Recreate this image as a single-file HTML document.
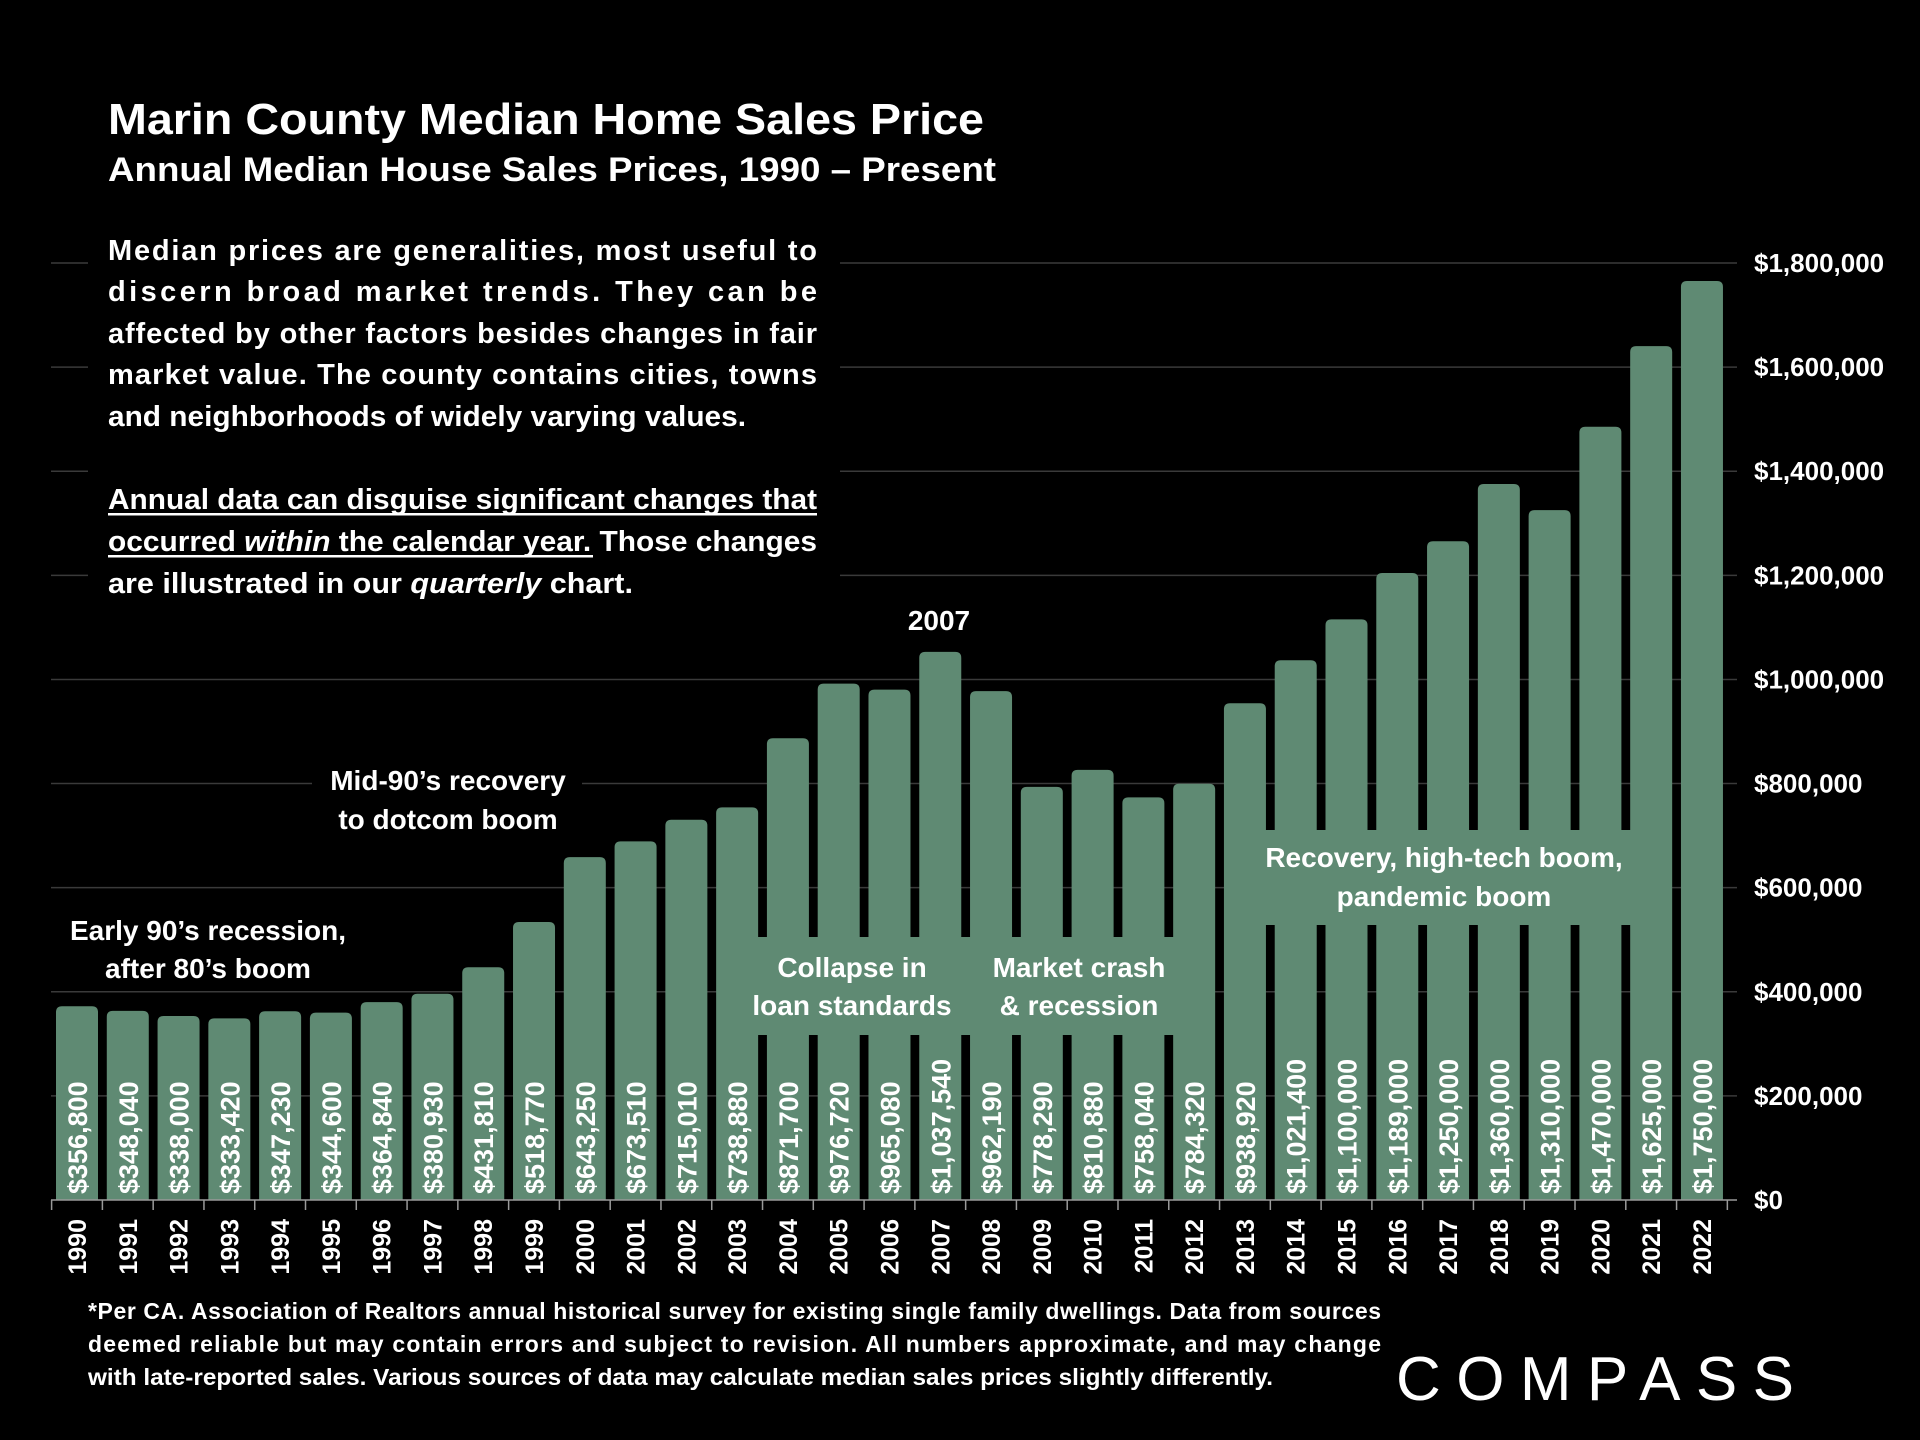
<!DOCTYPE html>
<html><head><meta charset="utf-8"><title>Marin County Median Home Sales Price</title>
<style>
html,body{margin:0;padding:0;background:#000;}
svg{display:block;font-family:"Liberation Sans",sans-serif;font-weight:bold;}
</style></head>
<body>
<svg id="chart" width="1920" height="1440" viewBox="0 0 1920 1440" xmlns="http://www.w3.org/2000/svg">
<rect width="1920" height="1440" fill="#000"/>
<g id="grid"></g>
<g id="bars"></g>
<g id="axes"></g>

<text x="108" y="134" font-size="44" fill="#fff" textLength="876" lengthAdjust="spacingAndGlyphs">Marin County Median Home Sales Price</text>
<text x="108" y="181" font-size="34" fill="#fff" textLength="888" lengthAdjust="spacingAndGlyphs">Annual Median House Sales Prices, 1990 – Present</text>

<g>
<rect x="88" y="230" width="752" height="372" fill="#000"/>
<g font-size="29" fill="#fff" lengthAdjust="spacingAndGlyphs">
<text x="108" y="260" textLength="709" lengthAdjust="spacing">Median prices are generalities, most useful to</text>
<text x="108" y="301" textLength="709" lengthAdjust="spacing">discern broad market trends. They can be</text>
<text x="108" y="343" textLength="709" lengthAdjust="spacing">affected by other factors besides changes in fair</text>
<text x="108" y="384" textLength="709" lengthAdjust="spacing">market value. The county contains cities, towns</text>
<text x="108" y="426" textLength="638" lengthAdjust="spacingAndGlyphs">and neighborhoods of widely varying values.</text>
<text x="108" y="509" textLength="709" lengthAdjust="spacingAndGlyphs">Annual data can disguise significant changes that</text>
<text x="108" y="551" textLength="709" lengthAdjust="spacingAndGlyphs">occurred <tspan font-style="italic">within</tspan> the calendar year. Those changes</text>
<text x="108" y="593" textLength="525" lengthAdjust="spacingAndGlyphs">are illustrated in our <tspan font-style="italic">quarterly</tspan> chart.</text>
</g>
<rect x="108" y="513" width="709" height="2.5" fill="#fff"/>
<rect x="108" y="555" width="485" height="2.5" fill="#fff"/>
</g>

<rect x="312" y="758" width="270" height="86" fill="#000"/>
<text x="448" y="790" font-size="28" fill="#fff" text-anchor="middle">Mid-90’s recovery</text>
<text x="448" y="829" font-size="28" fill="#fff" text-anchor="middle">to dotcom boom</text>
<text x="208" y="940" font-size="28" fill="#fff" text-anchor="middle">Early 90’s recession,</text>
<text x="208" y="978" font-size="28" fill="#fff" text-anchor="middle">after 80’s boom</text>
<text x="939" y="630" font-size="28" fill="#fff" text-anchor="middle">2007</text>

<rect x="753" y="937" width="432" height="98" fill="#5f8a73"/>
<text x="852" y="977" font-size="28" fill="#fff" text-anchor="middle">Collapse in</text>
<text x="852" y="1015" font-size="28" fill="#fff" text-anchor="middle">loan standards</text>
<text x="1079" y="977" font-size="28" fill="#fff" text-anchor="middle">Market crash</text>
<text x="1079" y="1015" font-size="28" fill="#fff" text-anchor="middle">&amp; recession</text>

<rect x="1243" y="830" width="398" height="95" fill="#5f8a73"/>
<text x="1444" y="867" font-size="28" fill="#fff" text-anchor="middle">Recovery, high-tech boom,</text>
<text x="1444" y="906" font-size="28" fill="#fff" text-anchor="middle">pandemic boom</text>

<g font-size="23" fill="#fff">
<text x="88" y="1319" textLength="1293" lengthAdjust="spacing">*Per CA. Association of Realtors annual historical survey for existing single family dwellings. Data from sources</text>
<text x="88" y="1352" textLength="1293" lengthAdjust="spacing">deemed reliable but may contain errors and subject to revision. All numbers approximate, and may change</text>
<text x="88" y="1385" textLength="1185" lengthAdjust="spacingAndGlyphs">with late-reported sales. Various sources of data may calculate median sales prices slightly differently.</text>
</g>
<text x="1396" y="1400" font-size="62" font-weight="normal" fill="#fff" textLength="398" lengthAdjust="spacing">COMPASS</text>

<script>
const years = [1990,1991,1992,1993,1994,1995,1996,1997,1998,1999,2000,2001,2002,2003,2004,2005,2006,2007,2008,2009,2010,2011,2012,2013,2014,2015,2016,2017,2018,2019,2020,2021,2022];
const prices = [356800,348040,338000,333420,347230,344600,364840,380930,431810,518770,643250,673510,715010,738880,871700,976720,965080,1037540,962190,778290,810880,758040,784320,938920,1021400,1100000,1189000,1250000,1360000,1310000,1470000,1625000,1750000];
const yTicks = [0,200000,400000,600000,800000,1000000,1200000,1400000,1600000,1800000];

const NS = 'http://www.w3.org/2000/svg';
const y0 = 1200, yTop = 263, maxV = 1800000;
const xLeft = 51, xRight = 1737, step = 50.78, x0 = 77, bw = 42;
function yScale(v){ return y0 - (v / maxV) * (y0 - yTop); }
function xScale(i){ return x0 + i * step; }
function fmt(v){ return '$' + v.toLocaleString('en-US'); }
function mk(tag, attrs){ const e = document.createElementNS(NS, tag); for (const k in attrs) e.setAttribute(k, attrs[k]); return e; }

const grid = document.getElementById('grid');
const bars = document.getElementById('bars');
const axes = document.getElementById('axes');

yTicks.forEach(t => {
  const y = yScale(t);
  if (t > 0) {
    const l = mk('line', {x1:xLeft, x2:xRight, y1:y, y2:y, stroke:'#3a3a3a', 'stroke-width':1.5});
    
    
    grid.appendChild(l);
  }
  const tx = mk('text', {x:1754, y:y + 9, 'font-size':26, fill:'#fff'});
  tx.textContent = fmt(t);
  
  
  axes.appendChild(tx);
});

years.forEach((yr, i) => {
  const cx = xScale(i), top = yScale(prices[i]) - 8;
  const p = mk('path', {d:`M${cx-bw/2},${y0} V${top+6} Q${cx-bw/2},${top} ${cx-bw/2+6},${top} H${cx+bw/2-6} Q${cx+bw/2},${top} ${cx+bw/2},${top+6} V${y0} Z`, fill:'#5f8a73'});
  
  
  bars.appendChild(p);
  const vl = mk('text', {x:0, y:0, 'font-size':27, fill:'#fff', transform:`translate(${cx+10},${y0-6}) rotate(-90)`});
  vl.textContent = fmt(prices[i]);
  
  
  bars.appendChild(vl);
  const yl = mk('text', {x:0, y:0, 'font-size':25, fill:'#fff', 'text-anchor':'end', transform:`translate(${cx+9},${y0+19}) rotate(-90)`});
  yl.textContent = yr;
  
  
  axes.appendChild(yl);
});

const ax = mk('line', {x1:xLeft, x2:xRight, y1:y0, y2:y0, stroke:'#9a9a9a', 'stroke-width':1.5});


axes.appendChild(ax);
for (let i = 0; i <= years.length; i++) {
  const x = xScale(i) - step / 2;
  const tk = mk('line', {x1:x, x2:x, y1:y0, y2:y0 + 10, stroke:'#9a9a9a', 'stroke-width':1.5});
  
  
  axes.appendChild(tk);
}
</script>
</svg>
</body></html>
